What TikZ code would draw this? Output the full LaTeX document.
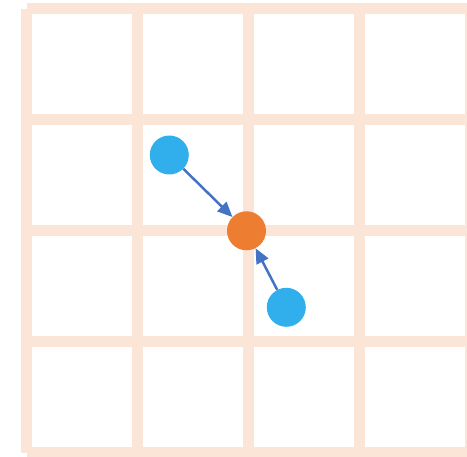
\documentclass[tikz,border=0pt]{standalone}
\usepackage{tikz}
\usetikzlibrary{arrows.meta,positioning}
\usepackage{xcolor}
\definecolor{gridpeach}{HTML}{FBE5D6}
\definecolor{dotblue}{HTML}{30AFEC}
\definecolor{dotorange}{HTML}{ED7D31}
\definecolor{arrowblue}{HTML}{4472C4}

\begin{document}
\begin{tikzpicture}[
  x=1pt, y=-1pt,
  gridline/.style={draw=gridpeach, line width=10.7pt},
  dot/.style={circle, inner sep=0pt, minimum size=39pt, fill=dotblue},
  hubdot/.style={dot, fill=dotorange},
  arrow/.style={-{Triangle[length=15pt, width=13pt]}, line width=2.5pt, draw=arrowblue}
]
\useasboundingbox (0,0) rectangle (467,457);
\clip (0,0) rectangle (467,457);

\draw[gridline] (26.5,8.7) -- (470.5,8.7);
\draw[gridline] (26.5,119.7) -- (470.5,119.7);
\draw[gridline] (26.5,230.7) -- (470.5,230.7);
\draw[gridline] (26.5,341.7) -- (470.5,341.7);
\draw[gridline] (26.5,452.7) -- (470.5,452.7);
\draw[gridline] (26.5,8.7) -- (26.5,452.7);
\draw[gridline] (137.5,8.7) -- (137.5,452.7);
\draw[gridline] (248.5,8.7) -- (248.5,452.7);
\draw[gridline] (359.5,8.7) -- (359.5,452.7);
\draw[gridline] (470.5,8.7) -- (470.5,452.7);

\node[dot] (upper) at (169.3,155) {};
\node[hubdot] (hub) at (246.5,230.8) {};
\node[dot] (lower) at (286.3,307.3) {};

\draw[arrow] (upper) -- (hub);
\draw[arrow] (lower) -- (hub);
\end{tikzpicture}
\end{document}
